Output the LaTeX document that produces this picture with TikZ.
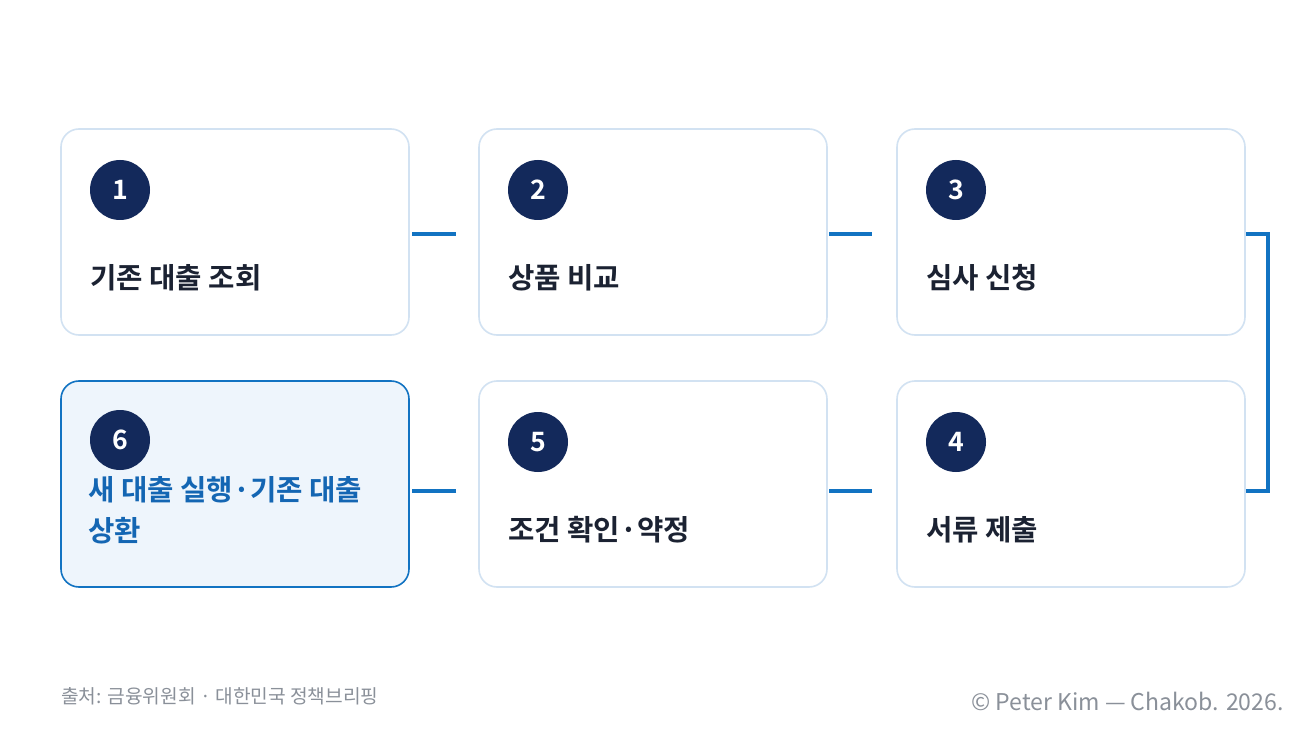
\documentclass[tikz,border=0pt]{standalone}
\usepackage{fontspec}
\setmainfont{Noto Sans CJK KR}
\newfontfamily\kb{Noto Sans CJK KR Bold}
\definecolor{navy}{HTML}{13295B}
\definecolor{ink}{HTML}{1B2232}
\definecolor{bord}{HTML}{D2E2F2}
\definecolor{blue}{HTML}{1273C2}
\definecolor{bluetxt}{HTML}{1466B3}
\definecolor{lite}{HTML}{EEF5FC}
\definecolor{gr}{HTML}{8A9099}
\begin{document}
\begin{tikzpicture}[x=0.75pt,y=-0.75pt,
 box/.style={draw=bord,line width=1.2pt,rounded corners=13.5pt,fill=white},
 hbox/.style={draw=blue,line width=1.2pt,rounded corners=13.5pt,fill=lite},
 num/.style={circle,fill=navy,minimum size=45pt,inner sep=0pt,text=white,font=\kb\fontsize{20}{20}\selectfont},
 lab/.style={anchor=west,text=ink,font=\kb\fontsize{21.5}{25}\selectfont,inner sep=0pt},
 con/.style={draw=blue,line width=3pt}]
\useasboundingbox (0,0) rectangle (1306,734);
\fill[white] (0,0) rectangle (1306,734);
\draw[box] (61,129) rectangle (409,335);
\draw[box] (479,129) rectangle (827,335);
\draw[box] (897,129) rectangle (1245,335);
\draw[hbox] (61,381) rectangle (409,587);
\draw[box] (479,381) rectangle (827,587);
\draw[box] (897,381) rectangle (1245,587);
\node[num] (n1) at (120,190) {1};
\node[num] (n2) at (538,190) {2};
\node[num] (n3) at (956,190) {3};
\node[num] (n6) at (120,440) {6};
\node[num] (n5) at (538,442) {5};
\node[num] (n4) at (956,442) {4};
\node[lab] (t1) at (90,278) {기존 대출 조회};
\node[lab] (t2) at (508,278) {상품 비교};
\node[lab] (t3) at (926,278) {심사 신청};
\node[lab,text=bluetxt,align=left,font=\kb\fontsize{21.5}{30.5}\selectfont] (t6) at (88,510) {새 대출 실행·기존 대출\\상환};
\node[lab] (t5) at (508,530) {조건 확인·약정};
\node[lab] (t4) at (926,530) {서류 제출};
\coordinate (a1) at (412,234); \coordinate (a2) at (456,234);
\coordinate (b1) at (829,234); \coordinate (b2) at (872,234);
\coordinate (c1) at (1246,234); \coordinate (c2) at (1268,234);
\coordinate (c3) at (1268,491); \coordinate (c4) at (1246,491);
\coordinate (d1) at (872,491); \coordinate (d2) at (829,491);
\coordinate (e1) at (456,491); \coordinate (e2) at (412,491);
\draw[con] (a1) -- (a2);
\draw[con] (b1) -- (b2);
\draw[con] (c1) -- (c2) -- (c3) -- (c4);
\draw[con] (d1) -- (d2);
\draw[con] (e1) -- (e2);
\node[anchor=west,text=gr,font=\fontsize{14.4}{14.4}\selectfont,inner sep=0pt] (src) at (61,696) {출처: 금융위원회 · 대한민국 정책브리핑};
\node[anchor=east,text=gr,font=\fontsize{17.3}{17.3}\selectfont,inner sep=0pt] (cp) at (1284,701) {© Peter Kim — Chakob. 2026.};
\end{tikzpicture}
\end{document}
